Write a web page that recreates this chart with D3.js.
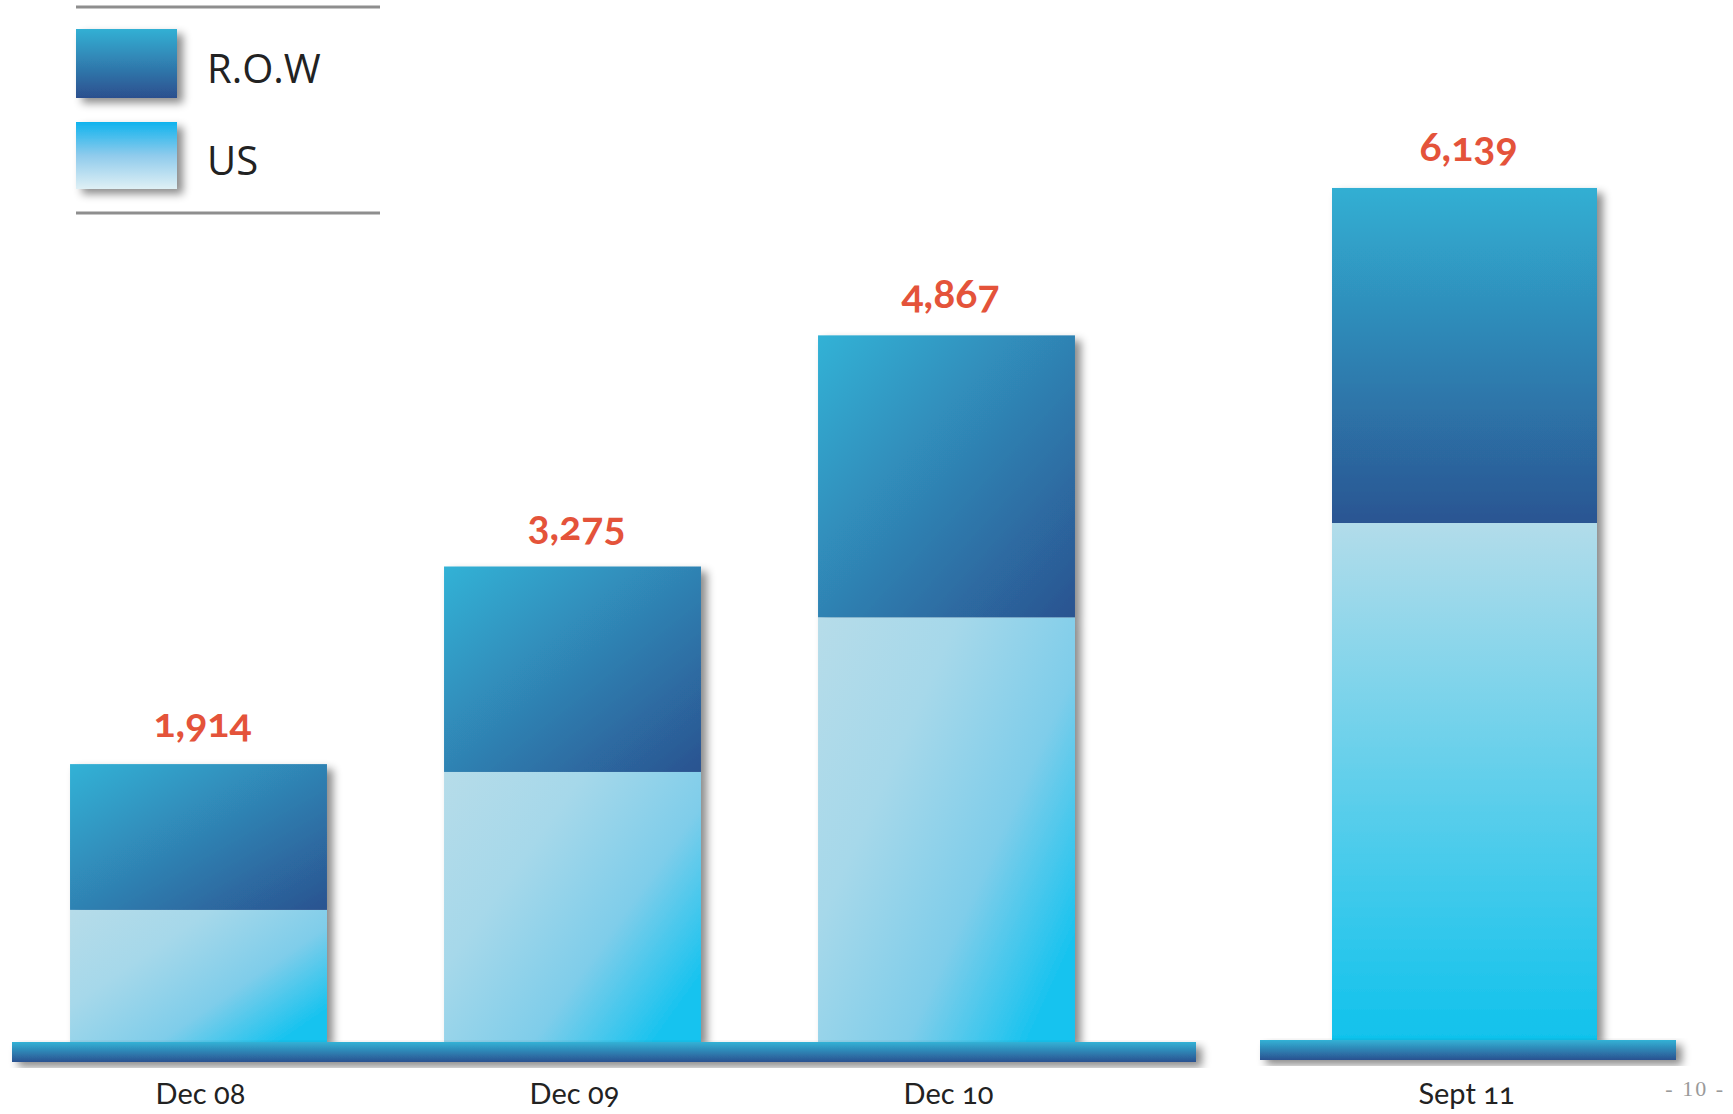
<!DOCTYPE html>
<html>
<head>
<meta charset="utf-8">
<script src="https://cdn.jsdelivr.net/npm/d3@7"></script>
<style>
  html, body { margin: 0; padding: 0; background: #fff; }
  svg { display: block; }
</style>
</head>
<body>
<svg id="chart" width="1733" height="1114"></svg>
<script>
// periods on the left panel and the separate right panel
const leftPeriods = ['Dec 08', 'Dec 09', 'Dec 10'];
const rightPeriods = ['Sept 11'];

// values (US part estimated from the split height)
const totals = [1914, 3275, 4867, 6139];
const usValues = [910, 1860, 2925, 3725];
const rowValues = totals.map((t, i) => t - usValues[i]);

const legendLabels = ['R.O.W', 'US'];
const pageLabel = '- 10 -';

const width = 1733;
const height = 1114;

const svg = d3.select('#chart')
  .attr('viewBox', [0, 0, width, height]);

const defs = svg.append('defs');

const gradient = (id, stops, x2, y2) => {
  const g = defs.append('linearGradient')
    .attr('id', id)
    .attr('x1', 0).attr('y1', 0)
    .attr('x2', x2).attr('y2', y2);
  stops.forEach(([o, c]) => g.append('stop')
    .attr('offset', o)
    .attr('stop-color', c));
};

// diagonal fills for left bars, vertical for the right one
gradient('rowDiag', [[0, '#33b2d6'], [1, '#2b5390']], 1, 1);
gradient('usDiag', [[0, '#b6dce9'], [0.35, '#a6d8ea'], [0.7, '#7fcdea'], [1, '#18c3ef']], 1, 0.75);
gradient('rowVert', [[0, '#31afd3'], [1, '#2b5592']], 0, 1);
gradient('usVert', [[0, '#b2dcea'], [1, '#10c2ec']], 0, 1);
gradient('strip', [[0, '#31b2d6'], [1, '#2b5190']], 0, 1);
gradient('legRow', [[0, '#33b0d4'], [1, '#2c4f8e']], 0, 1);
gradient('legUs', [[0, '#0fb3ee'], [0.5, '#8fcbec'], [1, '#dff0f5']], 0, 1);

defs.append('filter')
  .attr('id', 'shadow')
  .attr('x', '-10%').attr('y', '-10%')
  .attr('width', '130%').attr('height', '140%')
  .append('feDropShadow')
  .attr('dx', 6).attr('dy', 5)
  .attr('stdDeviation', 4)
  .attr('flood-color', '#000')
  .attr('flood-opacity', 0.45);

// scales: the two panels sit on different baselines
const xLeft = d3.scaleBand()
  .domain(leftPeriods)
  .range([11.5, 1133.5])
  .paddingInner(0.313)
  .paddingOuter(0.1565);

const xRight = d3.scaleBand()
  .domain(rightPeriods)
  .range([1332, 1597]);

const yLeft = d3.scaleLinear()
  .domain([0, 7000])
  .range([1042, 1042 - 7000 * 0.14519]);

const yRight = d3.scaleLinear()
  .domain([0, 7000])
  .range([1040, 1040 - 7000 * 0.13879]);

const panels = [
  {periods: leftPeriods, offset: 0, x: xLeft, y: yLeft, row: 'rowDiag', us: 'usDiag', strip: [12, 1196]},
  {periods: rightPeriods, offset: leftPeriods.length, x: xRight, y: yRight, row: 'rowVert', us: 'usVert', strip: [1260, 1676]}
];

panels.forEach(p => {
  const data = p.periods.map((name, i) => ({
    name,
    us: usValues[p.offset + i],
    row: rowValues[p.offset + i],
    total: totals[p.offset + i]
  }));

  const bar = svg.append('g').selectAll('g').data(data)
    .join('g')
    .attr('filter', 'url(#shadow)');

  bar.append('rect')
    .attr('x', d => p.x(d.name))
    .attr('width', p.x.bandwidth())
    .attr('y', d => p.y(d.us))
    .attr('height', d => p.y(0) - p.y(d.us))
    .attr('fill', `url(#${p.us})`);

  bar.append('rect')
    .attr('x', d => p.x(d.name))
    .attr('width', p.x.bandwidth())
    .attr('y', d => p.y(d.total))
    .attr('height', d => p.y(d.us) - p.y(d.total))
    .attr('fill', `url(#${p.row})`);

  // baseline strip
  svg.append('rect')
    .attr('x', p.strip[0])
    .attr('y', p.y(0))
    .attr('width', p.strip[1] - p.strip[0])
    .attr('height', 20)
    .attr('fill', 'url(#strip)')
    .attr('filter', 'url(#shadow)');

  svg.append('g').selectAll('text').data(data)
    .join('text')
    .attr('x', d => p.x(d.name) + p.x.bandwidth() / 2 + 4)
    .attr('y', d => p.y(d.total) - 27)
    .attr('text-anchor', 'middle')
    .style('font-family', 'Lato, "Open Sans", sans-serif')
    .style('font-variant-numeric', 'oldstyle-nums')
    .style('font-weight', 700)
    .style('font-size', '41px')
    .attr('fill', '#e4533a')
    .text(d => d3.format(',')(d.total));

  svg.append('g').selectAll('text').data(data)
    .join('text')
    .attr('x', d => p.x(d.name) + p.x.bandwidth() / 2 + 2)
    .attr('y', 1104)
    .attr('text-anchor', 'middle')
    .style('font-family', 'Lato, "Open Sans", sans-serif')
    .style('font-variant-numeric', 'oldstyle-nums')
    .style('font-size', '29px')
    .attr('fill', '#222')
    .text(d => d.name);
});

// legend
const legend = svg.append('g');
[7, 213].forEach(ly => legend.append('line')
  .attr('x1', 76).attr('x2', 380)
  .attr('y1', ly).attr('y2', ly)
  .attr('stroke', '#8e8e8e')
  .attr('stroke-width', 3));

const legendItems = legend.selectAll('g.item').data(legendLabels)
  .join('g')
  .attr('class', 'item')
  .attr('transform', (d, i) => `translate(76,${i === 0 ? 29 : 122})`);

legendItems.append('rect')
  .attr('width', 101)
  .attr('height', (d, i) => i === 0 ? 69 : 67)
  .attr('fill', (d, i) => i === 0 ? 'url(#legRow)' : 'url(#legUs)')
  .attr('filter', 'url(#shadow)');

legendItems.append('text')
  .attr('x', 131)
  .attr('y', (d, i) => i === 0 ? 54 : 53)
  .style('font-family', '"Open Sans", sans-serif')
  .style('font-size', '40px')
  .attr('fill', '#222')
  .text(d => d);

svg.append('text')
  .attr('x', 1725)
  .attr('y', 1096)
  .attr('text-anchor', 'end')
  .style('font-family', '"Liberation Serif", serif')
  .style('font-size', '22px')
  .style('letter-spacing', '2px')
  .attr('fill', '#9a9a9a')
  .text(pageLabel);
</script>
</body>
</html>
